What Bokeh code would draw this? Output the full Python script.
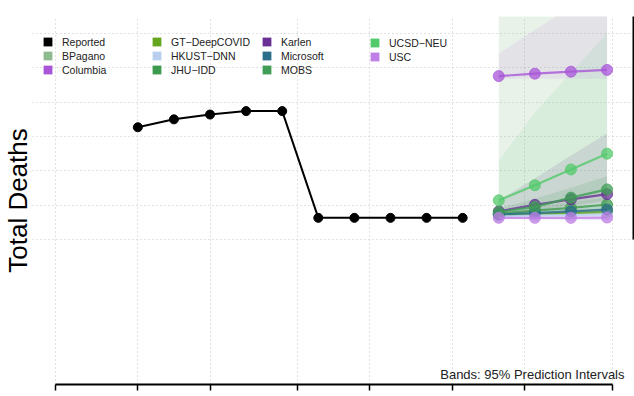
import pandas as pd
from bokeh.plotting import figure
from bokeh.models import Range1d, FixedTicker, LinearAxis, Grid, Legend, LegendItem, Label, Title
from bokeh.embed import file_html
from bokeh.resources import INLINE

# ---------------- data ----------------
report_dates = ["2020-05-01", "2020-05-08", "2020-05-15", "2020-05-22", "2020-05-29",
                "2020-06-05", "2020-06-12", "2020-06-19", "2020-06-26", "2020-07-03"]
report_values = [3.27, 3.50, 3.64, 3.74, 3.74, 0.63, 0.63, 0.63, 0.63, 0.63]

forecast_dates = ["2020-07-10", "2020-07-17", "2020-07-24", "2020-07-31"]

models = ["BPagano", "Columbia", "GT\u2212DeepCOVID", "HKUST\u2212DNN", "JHU\u2212IDD",
          "Karlen", "Microsoft", "MOBS", "UCSD\u2212NEU", "USC"]
colors = ["#8fbc8f", "#a855d8", "#66a61e", "#b8cff0", "#3e9a4e",
          "#6a3096", "#2c6e8c", "#3f9d55", "#52c96a", "#c07fe6"]

bpagano_mid = [0.73, 0.76, 0.79, 0.82]
columbia_mid = [4.76, 4.83, 4.89, 4.94]
gt_mid = [0.71, 0.74, 0.77, 0.80]
hkust_mid = [0.68, 0.70, 0.71, 0.73]
jhu_mid = [0.75, 0.84, 0.92, 1.02]
karlen_mid = [0.82, 1.01, 1.17, 1.32]
microsoft_mid = [0.73, 0.77, 0.82, 0.87]
mobs_mid = [0.80, 0.95, 1.22, 1.46]
ucsd_mid = [1.14, 1.58, 2.04, 2.50]
usc_mid = [0.63, 0.63, 0.63, 0.64]

bpagano_lo = [0.73, 0.76, 0.79, 0.82]
bpagano_hi = [8.13, 10.45, 12.79, 15.12]
columbia_lo = [4.68, 4.68, 4.68, 4.68]
columbia_hi = [5.42, 6.10, 6.78, 7.46]
gt_lo = [0.68, 0.70, 0.72, 0.73]
gt_hi = [0.76, 0.80, 0.85, 0.90]
hkust_lo = [0.60, 0.58, 0.56, 0.54]
hkust_hi = [0.76, 0.80, 0.84, 0.88]
jhu_lo = [0.70, 0.76, 0.82, 0.87]
jhu_hi = [0.82, 0.96, 1.08, 1.22]
karlen_lo = [0.70, 0.84, 0.96, 1.08]
karlen_hi = [1.14, 1.78, 2.45, 3.09]
microsoft_lo = [0.70, 0.72, 0.74, 0.76]
microsoft_hi = [0.78, 0.86, 0.94, 1.02]
mobs_lo = [0.73, 0.84, 0.99, 1.14]
mobs_hi = [0.90, 1.19, 1.51, 1.84]
ucsd_lo = [0.79, 0.96, 1.17, 1.37]
ucsd_hi = [2.30, 3.70, 4.86, 6.00]
usc_lo = [0.60, 0.59, 0.58, 0.57]
usc_hi = [0.66, 0.68, 0.70, 0.72]

mids = [bpagano_mid, columbia_mid, gt_mid, hkust_mid, jhu_mid,
        karlen_mid, microsoft_mid, mobs_mid, ucsd_mid, usc_mid]
los = [bpagano_lo, columbia_lo, gt_lo, hkust_lo, jhu_lo,
       karlen_lo, microsoft_lo, mobs_lo, ucsd_lo, usc_lo]
his = [bpagano_hi, columbia_hi, gt_hi, hkust_hi, jhu_hi,
       karlen_hi, microsoft_hi, mobs_hi, ucsd_hi, usc_hi]
band_alphas = [0.2, 0.1, 0.15, 0.15, 0.15, 0.13, 0.15, 0.15, 0.1, 0.15]

tick_dates = ["2020-04-15", "2020-05-01", "2020-05-15", "2020-06-01",
              "2020-06-15", "2020-07-01", "2020-07-15", "2020-08-01"]
y_grid_values = [0, 1, 2, 3, 4, 5, 6]

# ---------------- layout ----------------
W, H = 634, 396
ML, MR, MT, MB = 32, 1, 16, 12
FW, FH = W - ML - MR, H - MT - MB
DAY = 86400000.0


def ms(s):
    return pd.Timestamp(s).value / 1e6


rd = pd.to_datetime(report_dates)
fd = pd.to_datetime(forecast_dates)
tick_ms = [ms(t) for t in tick_dates]

x_start = tick_ms[0] - 4.43 * DAY
x_end = tick_ms[-1] + 4.13 * DAY
y_start, y_end = -4.224, 6.496

p = figure(width=W, height=H, output_backend="svg", toolbar_location=None,
           x_axis_type="datetime", y_axis_location=None,
           x_range=Range1d(x_start, x_end), y_range=Range1d(y_start, y_end),
           min_border_left=ML, min_border_right=MR, min_border_top=MT, min_border_bottom=MB,
           background_fill_color="white", border_fill_color="white")
p.outline_line_color = None

# y axis title on the left
p.add_layout(Title(text="Total Deaths", align="center", text_font="Liberation Sans",
                   text_font_size="26px", text_font_style="normal", text_color="black",
                   standoff=0, offset=0), "left")

# x axis (ticks only, no labels)
xa = p.xaxis[0]
xa.ticker = FixedTicker(ticks=tick_ms)
xa.bounds = (tick_ms[0], tick_ms[-1])
xa.major_label_overrides = {t: "" for t in tick_ms}
xa.major_label_text_font_size = "0px"
xa.major_label_standoff = 0
xa.major_tick_in = 0
xa.major_tick_out = 6
xa.minor_tick_out = 0
xa.minor_tick_in = 0
xa.axis_line_width = 2
xa.major_tick_line_width = 1.5
xa.axis_line_color = "black"
xa.major_tick_line_color = "black"

# grids
p.xgrid.grid_line_color = "#c4c4c4"
p.xgrid.grid_line_dash = "1 3"
p.xgrid.grid_line_width = 1
p.ygrid.visible = False
yg = Grid(dimension=1, ticker=FixedTicker(ticks=y_grid_values),
          grid_line_color="#c4c4c4", grid_line_dash="1 3", grid_line_width=1)
p.add_layout(yg, "center")

# right axis line
ra = LinearAxis(ticker=FixedTicker(ticks=[]), bounds=(0, y_end),
                major_tick_out=0, major_tick_in=0, minor_tick_out=0, minor_tick_in=0,
                major_label_text_font_size="0px", major_label_standoff=0,
                axis_line_width=2, axis_line_color="black")
p.add_layout(ra, "right")

# bands
for c, lo, hi, a in zip(colors, los, his, band_alphas):
    p.varea(x=fd, y1=lo, y2=hi, fill_color=c, fill_alpha=a)

# reported
p.line(rd, report_values, line_color="black", line_width=2)
p.scatter(rd, report_values, size=9, color="black")

# forecasts
for c, m in zip(colors, mids):
    p.line(fd, m, line_color=c, line_width=2.2, line_alpha=0.8)
    p.scatter(fd, m, size=11, fill_color=c, line_color=c, fill_alpha=0.75, line_alpha=0.75)

# legend swatches: zero-area quads on the series' own points (invisible in plot)
names = ["Reported"] + models
cols = ["#000000"] + colors
xs_all = [rd] + [fd] * len(models)
ys_all = [report_values] + mids
swatches = [p.quad(left=xs, right=xs, top=ys, bottom=ys, fill_color=c, line_color=None)
            for xs, ys, c in zip(xs_all, ys_all, cols)]
col_x = [10, 119, 229, 337]
top_off = 22.5
for ci in range(4):
    idx = list(range(ci * 3, min(ci * 3 + 3, len(names))))
    n = len(idx)
    lh = n * 11 + (n - 1) * 2
    leg = Legend(items=[LegendItem(label=names[i], renderers=[swatches[i]]) for i in idx],
                 location=(col_x[ci], FH - top_off - lh),
                 glyph_width=11, glyph_height=11, label_height=11, label_width=10,
                 label_standoff=9, spacing=2, padding=0, margin=0,
                 label_text_font="Liberation Sans", label_text_font_size="10.5px",
                 label_text_color="#222222",
                 border_line_color=None, background_fill_alpha=0)
    p.add_layout(leg, "center")

# note text
p.add_layout(Label(x=FW - 9, y=10, x_units="screen", y_units="screen",
                   text="Bands: 95% Prediction Intervals", text_align="right",
                   text_baseline="alphabetic", text_font="Liberation Sans",
                   text_font_size="13px", text_color="#222222"))

open("out.html", "w").write(file_html(p, INLINE))
